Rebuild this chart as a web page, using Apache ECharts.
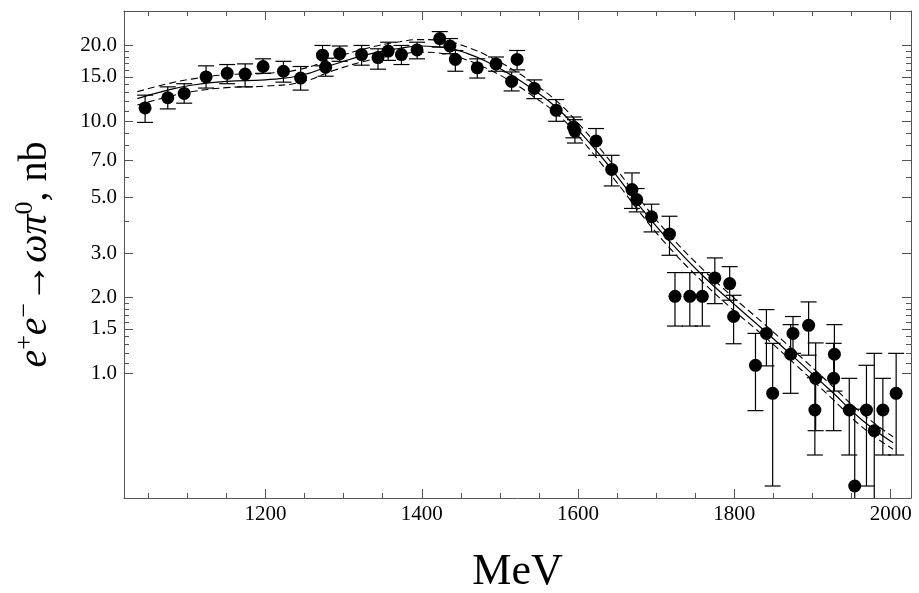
<!DOCTYPE html>
<html>
<head>
<meta charset="utf-8">
<script src="https://cdn.jsdelivr.net/npm/echarts@6/dist/echarts.min.js"></script>
<style>html,body{margin:0;padding:0;background:#fff}#c{width:919px;height:593px}</style>
</head>
<body>
<div id="c"></div>
<script>
// ---- data ----
const energies = [1046,1075,1096,1124,1151,1174,1197,1223,1245,1273,1277,1295,1323,1344,1357,1374,1394,1423,1436,1443,1471,1495,1522,1515,1544,1572,1594,1596,1623,1643,1669,1675,1694,1717,1724,1743,1759,1775,1794,1799,1827,1841,1849,1875,1872,1895,1904,1903,1928,1927,1947,1954,1969,1979,1990,2007];
const xsec     = [11.3,12.4,12.9,15.0,15.5,15.4,16.5,15.8,14.85,18.3,16.4,18.55,18.4,17.9,19.0,18.4,19.2,21.3,19.9,17.6,16.3,16.9,17.6,14.4,13.5,11.06,9.5,9.15,8.36,6.44,5.36,4.89,4.18,3.57,2.02,2.02,2.02,2.39,2.27,1.68,1.076,1.44,0.833,1.44,1.19,1.55,0.955,0.715,1.19,0.955,0.715,0.357,0.715,0.592,0.715,0.833];
const errLow   = [9.9,11.2,11.8,13.55,14.1,13.7,15.5,14.3,13.3,16.6,15.1,17.3,16.7,16.1,17.45,16.8,17.7,19.7,18.55,15.8,14.85,15.8,16.0,13.2,12.3,10.0,8.6,8.2,7.33,5.54,4.51,4.37,3.64,2.94,1.54,1.54,1.54,1.89,1.95,1.31,0.711,1.07,0.357,1.2,0.833,1.18,0.592,0.474,0.85,0.592,0.474,0.1,0.357,0.1,0.474,0.474];
const errHigh  = [12.7,13.7,14.1,16.6,16.8,16.9,17.7,17.3,16.5,20.0,17.8,19.9,20.0,19.4,20.6,20.0,20.6,22.7,21.3,19.1,17.7,18.0,19.1,15.7,14.6,12.2,10.4,10.15,9.36,7.33,6.24,5.41,4.69,4.2,2.51,2.51,2.51,2.87,2.65,2.04,1.44,1.79,1.315,1.68,1.56,1.92,1.32,0.96,1.56,1.315,0.955,0.72,1.076,1.2,0.955,1.2];

const fitEnergy = [1036,1075,1105,1150,1200,1245,1287,1330,1372,1400,1430,1458,1487,1517,1542,1573,1598,1628,1650,1679,1713,1756,1798,1836,1880,1922,1964,2003];
const fitCenter = [12.3,13.3,13.9,14.4,14.6,15.2,16.8,18.4,19.5,19.9,19.6,18.6,17.0,15.1,13.4,11.3,9.4,7.35,6.05,4.6,3.45,2.5,1.9,1.5,1.13,0.86,0.65,0.53];
const fitUpper  = [13.1,14.1,14.7,15.3,15.5,16.1,17.8,19.5,20.7,21.1,20.8,19.7,18.0,16.0,14.2,12.0,10.0,7.8,6.4,4.9,3.65,2.65,2.01,1.59,1.2,0.91,0.69,0.56];
const fitLower  = [11.6,12.5,13.1,13.6,13.8,14.3,15.9,17.4,18.4,18.8,18.5,17.5,16.0,14.2,12.6,10.7,8.9,6.9,5.7,4.35,3.25,2.36,1.79,1.42,1.07,0.81,0.61,0.50];

const xMajorTicks = [1200,1400,1600,1800,2000];
const xMinorTicks = [1050,1100,1150,1250,1300,1350,1450,1500,1550,1650,1700,1750,1850,1900,1950];
const yMajorTicks = [1.0,1.5,2.0,3.0,5.0,7.0,10.0,15.0,20.0];
const yMinorTicks = [1.1,1.2,1.3,1.4,1.6,1.7,1.8,1.9,4,6,8,9,11,12,13,14,16,17,18,19];
const xRange = [1019, 2026];
const yRange = [0.32, 27.4];

// ---- chart ----
const frameColor = '#555';
const serif = 'Liberation Serif';
const chart = echarts.init(document.getElementById('c'), null, {renderer: 'canvas'});

function xAxisDef(position, ticks, len, showLine, labels) {
  return {
    type: 'value', min: xRange[0], max: xRange[1], position: position,
    axisLine: {show: showLine, onZero: false, lineStyle: {color: frameColor, width: 1}},
    axisTick: {show: true, inside: true, length: len, customValues: ticks, lineStyle: {color: frameColor, width: 1}},
    axisLabel: labels ? {show: true, customValues: ticks, margin: 6, color: '#000', fontFamily: serif, fontSize: 21,
                        formatter: v => String(Math.round(v))} : {show: false},
    splitLine: {show: false}
  };
}
const ly = v => Math.log10(v);
function yAxisDef(position, ticks, len, showLine, labels) {
  return {
    type: 'value', min: ly(yRange[0]), max: ly(yRange[1]), position: position,
    axisLine: {show: showLine, onZero: false, lineStyle: {color: frameColor, width: 1}},
    axisTick: {show: true, inside: true, length: len, customValues: ticks.map(ly), lineStyle: {color: frameColor, width: 1}},
    axisLabel: labels ? {show: true, customValues: ticks.map(ly), margin: 7, color: '#000', fontFamily: serif, fontSize: 21,
                        formatter: v => Math.pow(10, v).toFixed(1)} : {show: false},
    splitLine: {show: false}
  };
}

const xAxes = [
  Object.assign(xAxisDef('bottom', xMajorTicks, 9, true, true), {
    name: 'MeV', nameLocation: 'middle', nameGap: 52,
    nameTextStyle: {fontFamily: serif, fontSize: 44, color: '#000'}
  }),
  xAxisDef('bottom', xMinorTicks, 5, false, false),
  xAxisDef('top', xMajorTicks, 9, true, false),
  xAxisDef('top', xMinorTicks, 5, false, false)
];
const yAxes = [
  {type: 'log', min: yRange[0], max: yRange[1], show: false, logBase: 10},
  Object.assign(yAxisDef('left', yMajorTicks, 9, true, true), {
    name: '{i|e}{s|+}{i|e}{s|\u2212}{r|\u2192}{i|\u03c9\u03c0}{s|0}{r|, nb}',
    nameLocation: 'middle', nameRotate: 90, nameGap: 66,
    nameTextStyle: {
      color: '#000', fontFamily: serif, fontSize: 40,
      rich: {
        i: {fontFamily: serif, fontStyle: 'italic', fontSize: 40, lineHeight: 46, color: '#000'},
        r: {fontFamily: serif, fontSize: 40, lineHeight: 46, color: '#000'},
        s: {fontFamily: serif, fontSize: 26, lineHeight: 26, verticalAlign: 'top', color: '#000'}
      }
    }
  }),
  yAxisDef('left', yMinorTicks, 5, false, false),
  yAxisDef('right', yMajorTicks, 9, true, false),
  yAxisDef('right', yMinorTicks, 5, false, false)
];

const points = energies.map((e, i) => [e, xsec[i]]);
const bars = energies.map((e, i) => [e, errLow[i], errHigh[i]]);
const toLine = arr => fitEnergy.map((e, i) => [e, arr[i]]);

const barStyle = {stroke: '#000', lineWidth: 1.2};
const fitLine = (arr, dashed) => ({
  type: 'line', xAxisIndex: 0, yAxisIndex: 0, data: toLine(arr),
  smooth: 0.5, showSymbol: false, symbol: 'none', clip: true,
  lineStyle: {color: '#000', width: dashed ? 1.1 : 1.2, type: dashed ? [7, 4] : 'solid'}, z: 2
});
chart.setOption({
  animation: false,
  backgroundColor: '#fff',
  grid: {left: 124, right: 8, top: 11, bottom: 95, containLabel: false, outerBoundsMode: 'none'},
  xAxis: xAxes,
  yAxis: yAxes,
  series: [
    fitLine(fitUpper, true),
    fitLine(fitLower, true),
    fitLine(fitCenter, false),
    {
      type: 'custom', xAxisIndex: 0, yAxisIndex: 0, data: bars, clip: true, z: 3,
      renderItem: function (params, api) {
        const x = api.value(0);
        const pLo = api.coord([x, api.value(1)]);
        const pHi = api.coord([x, api.value(2)]);
        const w = 8;
        return {
          type: 'group',
          children: [
            {type: 'line', shape: {x1: pLo[0], y1: pLo[1], x2: pHi[0], y2: pHi[1]}, style: barStyle},
            {type: 'line', shape: {x1: pLo[0] - w, y1: pLo[1], x2: pLo[0] + w, y2: pLo[1]}, style: barStyle},
            {type: 'line', shape: {x1: pHi[0] - w, y1: pHi[1], x2: pHi[0] + w, y2: pHi[1]}, style: barStyle}
          ]
        };
      }
    },
    {
      type: 'scatter', xAxisIndex: 0, yAxisIndex: 0, data: points,
      symbol: 'circle', symbolSize: 13, itemStyle: {color: '#000', opacity: 1}, z: 4
    }
  ]
});
</script>
</body>
</html>
